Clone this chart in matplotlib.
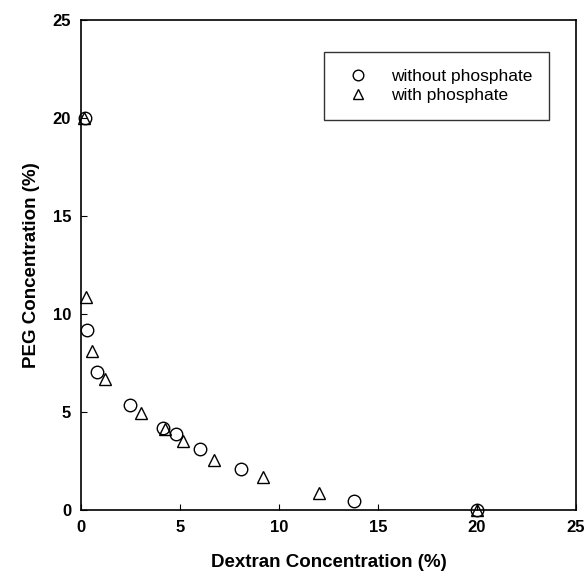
import matplotlib
matplotlib.use("Agg")
import matplotlib.pyplot as plt

plt.rcParams['font.family'] = ['Liberation Sans', 'DejaVu Sans']

# without phosphate (circles)
dex_no = [0.2, 0.3, 0.8, 2.5, 4.15, 4.8, 6.0, 8.1, 13.8, 20.0]
peg_no = [20.0, 9.2, 7.05, 5.35, 4.2, 3.9, 3.1, 2.12, 0.48, 0.0]
# with phosphate (triangles)
dex_ph = [0.15, 0.28, 0.57, 1.2, 3.05, 4.25, 5.15, 6.7, 9.2, 12.0, 20.0]
peg_ph = [20.0, 10.9, 8.1, 6.7, 4.98, 4.15, 3.52, 2.57, 1.67, 0.88, 0.0]

fig = plt.figure(figsize=(5.86, 5.79), dpi=100)
ax = fig.add_axes([0.138, 0.119, 0.845, 0.846])

ax.plot(dex_no, peg_no, 'o', mfc='none', mec='black', ms=9, mew=1.0,
        linestyle='none', label='without phosphate', clip_on=False)
ax.plot(dex_ph, peg_ph, '^', mfc='none', mec='black', ms=9, mew=1.0,
        linestyle='none', label='with phosphate', clip_on=False)

ax.set_xlim(0, 25)
ax.set_ylim(0, 25)
ax.set_xticks([0, 5, 10, 15, 20, 25])
ax.set_yticks([0, 5, 10, 15, 20, 25])
ax.tick_params(direction='in', length=4, labelsize=12, pad=7)
for lab in ax.get_xticklabels() + ax.get_yticklabels():
    lab.set_fontweight('bold')
for s in ax.spines.values():
    s.set_linewidth(1.2)

ax.set_xlabel('Dextran Concentration (%)', fontsize=13.5, fontweight='bold', labelpad=14)
ax.set_ylabel('PEG Concentration (%)', fontsize=13.5, fontweight='bold', labelpad=9)

leg = ax.legend(loc='upper right', bbox_to_anchor=(0.945, 0.935), fontsize=12.5,
                frameon=True, fancybox=False, edgecolor='black', borderpad=0.95,
                handletextpad=0.9, handlelength=2.0, borderaxespad=0,
                labelspacing=0.25, markerscale=0.85)
leg.get_frame().set_linewidth(1.0)

fig.savefig('out.png', dpi=100)
